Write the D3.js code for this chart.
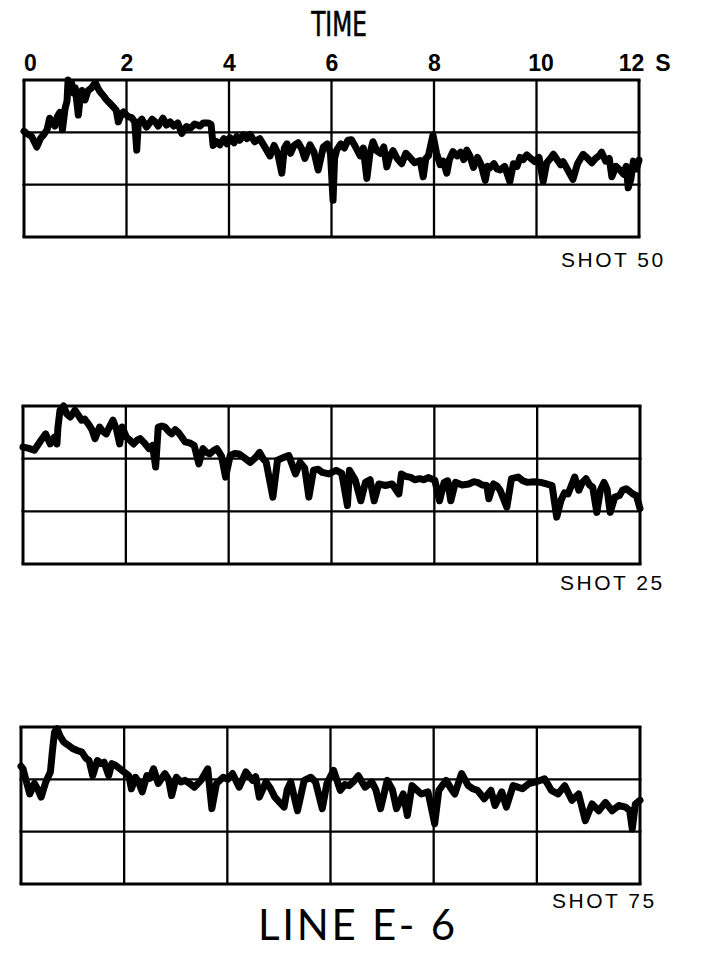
<!DOCTYPE html>
<html>
<head>
<meta charset="utf-8">
<script src="https://cdn.jsdelivr.net/npm/d3@7"></script>
<style>
  body { margin: 0; background: #fff; }
</style>
</head>
<body>
<div id="my_dataviz"></div>
<script>
// time axis (seconds) and the three trace rows
var timeTicks = [0, 2, 4, 6, 8, 10, 12];
var rowTicks = [0, 1, 2, 3];
var shotNames = ["SHOT 50", "SHOT 25", "SHOT 75"];

// traces: time (s) and level in grid rows (0 = bottom, 3 = top)
var shot50Time = [0, 0.05, 0.15, 0.25, 0.32, 0.38, 0.45, 0.5, 0.56, 0.6, 0.65, 0.7, 0.75, 0.8, 0.84, 0.86, 0.9, 0.93, 0.97, 1.0,
  1.06, 1.1, 1.13, 1.19, 1.25, 1.32, 1.39, 1.44, 1.48, 1.55, 1.61, 1.68, 1.74, 1.8, 1.84, 1.9, 1.94, 2.03, 2.1, 2.16,
  2.2, 2.23, 2.3, 2.39, 2.45, 2.5, 2.56, 2.62, 2.71, 2.78, 2.85, 2.92, 3.0, 3.08, 3.17, 3.25, 3.33, 3.43, 3.5, 3.59,
  3.65, 3.69, 3.76, 3.82, 3.9, 3.96, 4.02, 4.1, 4.15, 4.21, 4.28, 4.35, 4.41, 4.5, 4.6, 4.68, 4.8, 4.88, 4.95, 5.03,
  5.08, 5.13, 5.2, 5.27, 5.35, 5.42, 5.48, 5.58, 5.66, 5.74, 5.84, 5.92, 5.98, 6.03, 6.06, 6.1, 6.18, 6.25, 6.32, 6.39,
  6.47, 6.56, 6.62, 6.69, 6.75, 6.81, 6.88, 6.95, 7.02, 7.08, 7.14, 7.2, 7.28, 7.37, 7.45, 7.53, 7.62, 7.73, 7.79, 7.84,
  7.89, 7.98, 8.05, 8.12, 8.18, 8.25, 8.3, 8.37, 8.45, 8.52, 8.58, 8.64, 8.7, 8.77, 8.85, 8.92, 9.0, 9.05, 9.09, 9.17,
  9.23, 9.29, 9.38, 9.48, 9.55, 9.62, 9.68, 9.74, 9.81, 9.89, 9.97, 10.05, 10.13, 10.2, 10.27, 10.33, 10.4, 10.47, 10.52, 10.6,
  10.71, 10.8, 10.86, 10.91, 10.98, 11.08, 11.15, 11.22, 11.27, 11.35, 11.42, 11.47, 11.55, 11.63, 11.7, 11.75, 11.79, 11.84, 11.89, 11.95, 12];
var shot50Value = [2.02, 1.98, 1.92, 1.72, 1.88, 1.95, 2.05, 2.27, 2.18, 2.12, 2.3, 2.38, 2.05, 2.45, 2.6, 3.0, 2.85, 2.94, 2.75, 2.85,
  2.33, 2.7, 2.8, 2.62, 2.8, 2.85, 2.95, 2.85, 2.78, 2.7, 2.62, 2.55, 2.49, 2.42, 2.2, 2.35, 2.39, 2.3, 2.28, 2.2,
  1.66, 2.18, 2.25, 2.1, 2.18, 2.25, 2.2, 2.12, 2.27, 2.14, 2.2, 2.12, 2.18, 1.98, 2.11, 2.08, 2.16, 2.12, 2.18, 2.18,
  2.15, 1.75, 1.82, 1.76, 1.88, 1.78, 1.9, 1.8, 1.92, 1.85, 1.95, 1.88, 1.96, 1.82, 1.88, 1.75, 1.55, 1.75, 1.6, 1.22,
  1.7, 1.78, 1.6, 1.75, 1.8, 1.68, 1.5, 1.76, 1.62, 1.28, 1.72, 1.78, 1.6, 0.7, 1.5, 1.66, 1.78, 1.7, 1.85, 1.86,
  1.72, 1.55, 1.7, 1.12, 1.6, 1.82, 1.65, 1.6, 1.72, 1.34, 1.55, 1.65, 1.5, 1.4, 1.6, 1.52, 1.42, 1.46, 1.15, 1.5,
  1.55, 1.95, 1.6, 1.38, 1.45, 1.22, 1.48, 1.63, 1.55, 1.62, 1.48, 1.66, 1.55, 1.33, 1.52, 1.38, 1.08, 1.35, 1.32, 1.4,
  1.3, 1.28, 1.35, 1.06, 1.4, 1.35, 1.52, 1.48, 1.57, 1.5, 1.44, 1.52, 1.06, 1.42, 1.5, 1.58, 1.48, 1.38, 1.44, 1.3,
  1.1, 1.4, 1.5, 1.58, 1.52, 1.42, 1.5, 1.55, 1.62, 1.45, 1.5, 1.15, 1.35, 1.28, 1.2, 1.35, 0.94, 1.1, 1.45, 1.3, 1.47];

var shot25Time = [0, 0.1, 0.22, 0.35, 0.44, 0.53, 0.61, 0.66, 0.68, 0.72, 0.79, 0.85, 0.92, 1.01, 1.08, 1.14, 1.2, 1.27, 1.34, 1.4,
  1.49, 1.55, 1.62, 1.68, 1.75, 1.82, 1.88, 1.93, 2.01, 2.08, 2.15, 2.22, 2.28, 2.36, 2.45, 2.52, 2.58, 2.63, 2.7, 2.76,
  2.83, 2.89, 2.96, 3.02, 3.08, 3.15, 3.24, 3.33, 3.42, 3.5, 3.57, 3.63, 3.7, 3.77, 3.86, 3.94, 4.03, 4.12, 4.2, 4.3,
  4.42, 4.52, 4.6, 4.67, 4.73, 4.86, 4.95, 5.06, 5.17, 5.3, 5.39, 5.48, 5.56, 5.65, 5.74, 5.82, 5.95, 6.09, 6.2, 6.31,
  6.35, 6.46, 6.57, 6.66, 6.75, 6.83, 6.92, 7.05, 7.18, 7.31, 7.36, 7.45, 7.53, 7.62, 7.71, 7.8, 7.88, 8.01, 8.1, 8.19,
  8.26, 8.32, 8.41, 8.54, 8.67, 8.76, 8.84, 8.93, 9.02, 9.06, 9.15, 9.22, 9.28, 9.41, 9.5, 9.63, 9.72, 9.81, 9.94, 10.07,
  10.18, 10.29, 10.38, 10.46, 10.53, 10.6, 10.67, 10.73, 10.81, 10.88, 10.95, 11.02, 11.08, 11.16, 11.23, 11.3, 11.36, 11.42, 11.51, 11.6,
  11.66, 11.73, 11.8, 11.86, 11.93, 12];
var shot25Value = [2.22, 2.2, 2.16, 2.35, 2.47, 2.28, 2.41, 2.28, 2.6, 2.92, 3.0, 2.85, 2.79, 2.92, 2.82, 2.73, 2.75, 2.66, 2.55, 2.38,
  2.6, 2.52, 2.47, 2.6, 2.73, 2.55, 2.28, 2.6, 2.41, 2.35, 2.28, 2.35, 2.38, 2.3, 2.19, 2.25, 1.84, 2.6, 2.62, 2.6,
  2.52, 2.47, 2.55, 2.5, 2.42, 2.32, 2.3, 2.25, 1.9, 2.19, 2.12, 2.09, 2.15, 2.19, 2.05, 1.65, 2.06, 2.1, 2.09, 2.02,
  1.93, 2.02, 2.12, 2.0, 1.93, 1.27, 1.97, 2.02, 2.06, 1.71, 1.93, 1.82, 1.27, 1.78, 1.8, 1.74, 1.71, 1.78, 1.72, 1.11,
  1.78, 1.6, 1.2, 1.55, 1.6, 1.2, 1.52, 1.49, 1.52, 1.33, 1.71, 1.66, 1.65, 1.6, 1.62, 1.6, 1.64, 1.59, 1.2, 1.55,
  1.58, 1.2, 1.55, 1.5, 1.52, 1.56, 1.55, 1.5, 1.49, 1.24, 1.52, 1.48, 1.4, 1.08, 1.62, 1.65, 1.58, 1.55, 1.56, 1.55,
  1.52, 1.49, 0.89, 1.2, 1.35, 1.33, 1.5, 1.65, 1.4, 1.55, 1.62, 1.5, 1.46, 0.98, 1.4, 1.55, 1.42, 0.98, 1.27, 1.3,
  1.4, 1.43, 1.38, 1.33, 1.3, 1.05];

var shot75Time = [0, 0.04, 0.09, 0.17, 0.26, 0.33, 0.39, 0.48, 0.57, 0.61, 0.65, 0.7, 0.76, 0.83, 0.92, 1.0, 1.09, 1.18, 1.26, 1.32,
  1.39, 1.48, 1.55, 1.61, 1.7, 1.76, 1.83, 1.96, 2.09, 2.14, 2.22, 2.28, 2.35, 2.44, 2.5, 2.57, 2.66, 2.79, 2.86, 2.92,
  3.01, 3.1, 3.18, 3.27, 3.36, 3.49, 3.62, 3.7, 3.79, 3.92, 4.01, 4.1, 4.23, 4.36, 4.49, 4.55, 4.62, 4.75, 4.84, 4.92,
  5.1, 5.16, 5.23, 5.36, 5.49, 5.62, 5.71, 5.84, 5.93, 6.06, 6.19, 6.28, 6.36, 6.45, 6.54, 6.67, 6.8, 6.88, 6.97, 7.1,
  7.2, 7.28, 7.41, 7.49, 7.58, 7.67, 7.76, 7.89, 8.02, 8.1, 8.24, 8.32, 8.41, 8.54, 8.67, 8.76, 8.85, 8.98, 9.11, 9.19,
  9.32, 9.41, 9.54, 9.63, 9.72, 9.85, 9.98, 10.15, 10.28, 10.41, 10.54, 10.68, 10.81, 10.94, 11.07, 11.2, 11.33, 11.46, 11.59, 11.72,
  11.8, 11.85, 11.91, 12];
var shot75Value = [2.25, 2.2, 2.01, 1.72, 1.92, 1.8, 1.66, 1.95, 2.14, 2.55, 2.9, 2.97, 2.82, 2.71, 2.65, 2.59, 2.55, 2.52, 2.4, 2.36,
  2.07, 2.36, 2.3, 2.33, 2.07, 2.3, 2.27, 2.17, 2.07, 1.82, 2.04, 1.95, 1.76, 2.07, 2.02, 2.2, 1.92, 2.11, 2.0, 1.69,
  2.04, 1.95, 1.98, 1.92, 1.85, 1.98, 2.2, 1.44, 1.92, 2.04, 2.0, 2.11, 1.85, 2.14, 1.98, 2.05, 1.66, 1.95, 1.82, 1.66,
  1.47, 1.8, 1.95, 1.4, 1.98, 2.04, 1.95, 1.44, 1.92, 2.17, 1.79, 1.9, 1.88, 1.96, 2.07, 1.85, 1.95, 1.8, 1.44, 1.98,
  1.8, 1.44, 1.72, 1.31, 1.88, 1.8, 1.72, 1.76, 1.15, 1.79, 1.98, 1.85, 1.72, 2.11, 1.88, 1.82, 1.79, 1.63, 1.79, 1.5,
  1.76, 1.47, 1.88, 1.85, 1.82, 1.92, 1.95, 2.01, 1.79, 1.72, 1.88, 1.6, 1.72, 1.21, 1.53, 1.4, 1.56, 1.4, 1.5, 1.47,
  1.4, 1.05, 1.53, 1.6];

var shotTimes = [shot50Time, shot25Time, shot75Time];
var shotValues = [shot50Value, shot25Value, shot75Value];

// panel placement on the page
var panels = [
  {left: 24, right: 639, top: 80, bottom: 237, labelX: 561, labelY: 267},
  {left: 23, right: 640, top: 406, bottom: 564, labelX: 560, labelY: 590},
  {left: 21, right: 640, top: 727, bottom: 884, labelX: 552, labelY: 908}
];

var svg = d3.select("#my_dataviz")
  .append("svg")
  .attr("width", 706)
  .attr("height", 953)
  .style("background", "#fff");

svg.append("text")
  .attr("x", 339)
  .attr("y", 36)
  .attr("text-anchor", "middle")
  .attr("transform", "translate(339,0) scale(0.78,1) translate(-339,0)")
  .style("font-family", "'Liberation Sans Narrow', 'DejaVu Sans Condensed', sans-serif")
  .style("font-size", "33px")
  .style("font-weight", "normal")
  .style("stroke", "#000")
  .style("stroke-width", 0.6)
  .text("TIME");

panels.forEach(function(p, k) {
  var x = d3.scaleLinear().domain([0, 12]).range([p.left, p.right]);
  var y = d3.scaleLinear().domain([0, 3]).range([p.bottom, p.top]);
  var g = svg.append("g");

  // grid
  g.selectAll(".vline")
    .data(timeTicks)
    .enter().append("line")
    .attr("x1", function(d) { return x(d); })
    .attr("x2", function(d) { return x(d); })
    .attr("y1", y(0))
    .attr("y2", y(3))
    .style("stroke", "#000")
    .style("stroke-width", function(d) { return (d == 0 || d == 12) ? 3 : 2.3; });
  g.selectAll(".hline")
    .data(rowTicks)
    .enter().append("line")
    .attr("x1", x(0) - 1.5)
    .attr("x2", x(12) + 1.5)
    .attr("y1", function(d) { return y(d); })
    .attr("y2", function(d) { return y(d); })
    .style("stroke", "#000")
    .style("stroke-width", function(d) { return (d == 0 || d == 3) ? 3 : 2.3; });

  // top axis labels only on the first panel
  if (k == 0) {
    var ax = g.append("g")
      .attr("transform", "translate(0," + (p.top - 9) + ")")
      .call(d3.axisTop(x).tickValues(timeTicks).tickSize(0).tickPadding(0));
    ax.select(".domain").remove();
    ax.selectAll("text")
      .style("font-family", "'Liberation Sans', Arial, sans-serif")
      .style("font-size", "23px")
      .style("font-weight", "bold")
      .attr("dx", function(d) { return d == 0 ? 6 : (d == 12 ? -8 : (d == 10 ? 4 : 0)); });
    g.append("text")
      .attr("x", 663)
      .attr("y", p.top - 9)
      .attr("text-anchor", "middle")
      .style("font-family", "'Liberation Sans', Arial, sans-serif")
      .style("font-size", "23px")
      .style("font-weight", "bold")
      .text("S");
  }

  var pts = shotTimes[k].map(function(t, i) { return [t, shotValues[k][i]]; });
  var line = d3.line()
    .x(function(d) { return x(d[0]); })
    .y(function(d) { return y(d[1]); });

  g.append("path")
    .datum(pts)
    .attr("d", line)
    .style("fill", "none")
    .style("stroke", "#000")
    .style("stroke-width", 7)
    .style("stroke-linejoin", "round")
    .style("stroke-linecap", "round");

  g.append("text")
    .attr("x", p.labelX)
    .attr("y", p.labelY)
    .style("font-family", "'Liberation Sans', Arial, sans-serif")
    .style("font-size", "21px")
    .style("letter-spacing", "2.5px")
    .text(shotNames[k]);
});

svg.append("text")
  .attr("x", 258)
  .attr("y", 940)
  .attr("textLength", 197)
  .attr("lengthAdjust", "spacing")
  .style("font-family", "Lato, 'Open Sans', sans-serif")
  .style("font-size", "42px")
  .style("font-weight", "normal")
  .text("LINE E- 6");
</script>
</body>
</html>
